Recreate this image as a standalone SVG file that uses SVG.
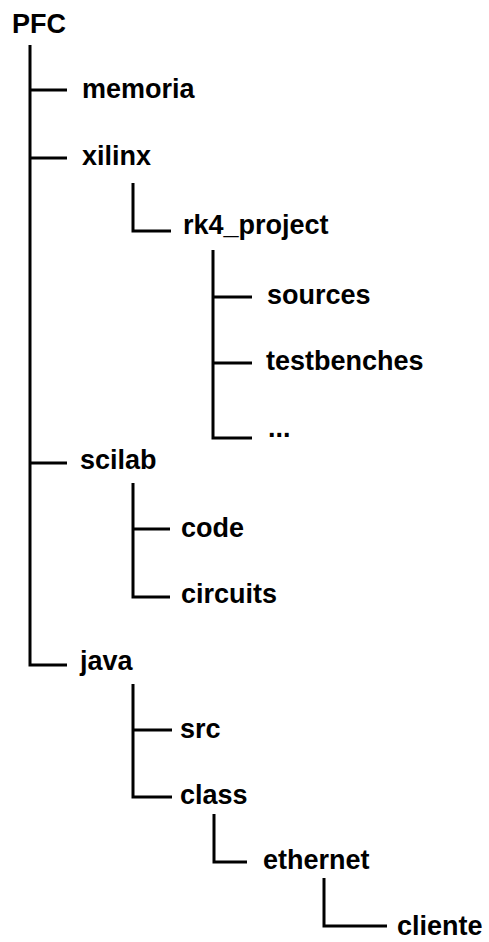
<svg xmlns="http://www.w3.org/2000/svg" width="489" height="942" viewBox="0 0 489 942">
  <style>
    .lbl { font-family: "Liberation Sans", Arial, sans-serif; font-weight: bold; font-size: 27px; fill: #000; }
    .ln { fill: none; stroke: #000; stroke-width: 3; stroke-linejoin: miter; stroke-linecap: butt; }
  </style>
  <rect width="489" height="942" fill="#fff"/>
  <!-- tree connectors -->
  <g id="connectors" class="ln">
    <path d="M30 45 V665 H67"/>
    <path d="M30 90 H67"/>
    <path d="M30 158 H67"/>
    <path d="M30 463 H67"/>
    <path d="M133 183 V231 H171"/>
    <path d="M213 250 V438 H252"/>
    <path d="M213 297 H252"/>
    <path d="M213 363 H252"/>
    <path d="M133 483 V597 H170"/>
    <path d="M133 529 H170"/>
    <path d="M133 684 V797 H172"/>
    <path d="M133 730 H172"/>
    <path d="M214 814 V862 H247"/>
    <path d="M324 878 V926 H387"/>
  </g>
  <!-- folder nodes -->
  <g id="pfc"><text class="lbl" x="12" y="33">PFC</text></g>
  <g id="memoria"><text class="lbl" x="82" y="98">memoria</text></g>
  <g id="xilinx"><text class="lbl" x="82" y="165">xilinx</text></g>
  <g id="rk4_project"><text class="lbl" x="183" y="234">rk4_project</text></g>
  <g id="sources"><text class="lbl" x="267" y="304">sources</text></g>
  <g id="testbenches"><text class="lbl" x="266" y="370">testbenches</text></g>
  <g id="more"><text class="lbl" x="268" y="437">...</text></g>
  <g id="scilab"><text class="lbl" x="80" y="469">scilab</text></g>
  <g id="code"><text class="lbl" x="181" y="537">code</text></g>
  <g id="circuits"><text class="lbl" x="181" y="603">circuits</text></g>
  <g id="java"><text class="lbl" x="80" y="670">java</text></g>
  <g id="src"><text class="lbl" x="180" y="738">src</text></g>
  <g id="class"><text class="lbl" x="180" y="804">class</text></g>
  <g id="ethernet"><text class="lbl" x="263" y="869">ethernet</text></g>
  <g id="cliente"><text class="lbl" x="397" y="935">cliente</text></g>
</svg>
